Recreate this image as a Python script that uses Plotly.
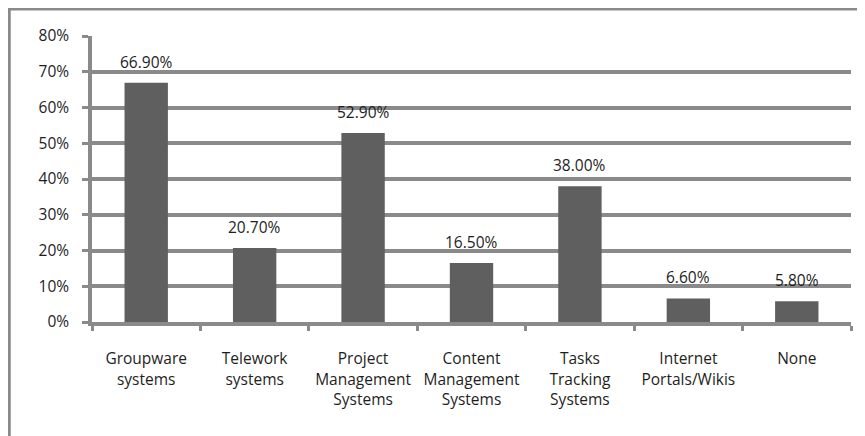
import plotly.graph_objects as go

categories = [
    "Groupware<br>systems",
    "Telework<br>systems",
    "Project<br>Management<br>Systems",
    "Content<br>Management<br>Systems",
    "Tasks<br>Tracking<br>Systems",
    "Internet<br>Portals/Wikis",
    "None",
]
values = [66.9, 20.7, 52.9, 16.5, 38.0, 6.6, 5.8]
value_labels = ["66.90%", "20.70%", "52.90%", "16.50%", "38.00%", "6.60%", "5.80%"]
y_tick_vals = [0, 10, 20, 30, 40, 50, 60, 70, 80]
y_tick_text = ["0%", "10%", "20%", "30%", "40%", "50%", "60%", "70%", "80%"]

GRID = "#8a8a8a"
BAR = "#5f5f5f"
FONT = "Open Sans"
TXT = "#1e1e1e"

fig = go.Figure(
    go.Bar(
        x=categories,
        y=values,
        marker=dict(color=BAR, line=dict(width=0)),
        hoverinfo="skip",
    )
)

for c, v, t in zip(categories, values, value_labels):
    fig.add_annotation(
        x=c, y=v, text=t, showarrow=False,
        yanchor="middle", yshift=21,
        font=dict(family=FONT, size=15.5, color=TXT),
    )

# outer frame
fig.add_shape(
    type="rect", xref="paper", yref="paper",
    x0=-0.109, x1=1.05, y0=-0.45, y1=1.094,
    line=dict(color=GRID, width=3), layer="below",
)

# page body has an 8px margin, so the figure is sized to fit the window
fig.update_layout(
    width=857, height=428,
    margin=dict(l=84, r=14, t=28, b=114, autoexpand=False),
    paper_bgcolor="white", plot_bgcolor="white",
    bargap=0.6, showlegend=False,
    font=dict(family=FONT, size=15.5, color=TXT),
)
fig.update_xaxes(
    type="category", automargin=False,
    showline=True, linecolor=GRID, linewidth=3.5,
    ticks="outside", tickson="boundaries", ticklen=5, tickwidth=3, tickcolor=GRID,
    ticklabelstandoff=20,
    tickfont=dict(family=FONT, size=15.5, color=TXT),
    showgrid=False,
)
fig.update_yaxes(
    range=[0, 80], automargin=False,
    tickvals=y_tick_vals, ticktext=y_tick_text,
    showgrid=True, gridcolor=GRID, gridwidth=3.5,
    showline=True, linecolor=GRID, linewidth=3.5,
    ticks="outside", ticklen=6, tickwidth=3, tickcolor=GRID,
    ticklabelstandoff=10,
    tickfont=dict(family=FONT, size=15.5, color=TXT),
    zeroline=False,
)

fig.write_html("out.html")
